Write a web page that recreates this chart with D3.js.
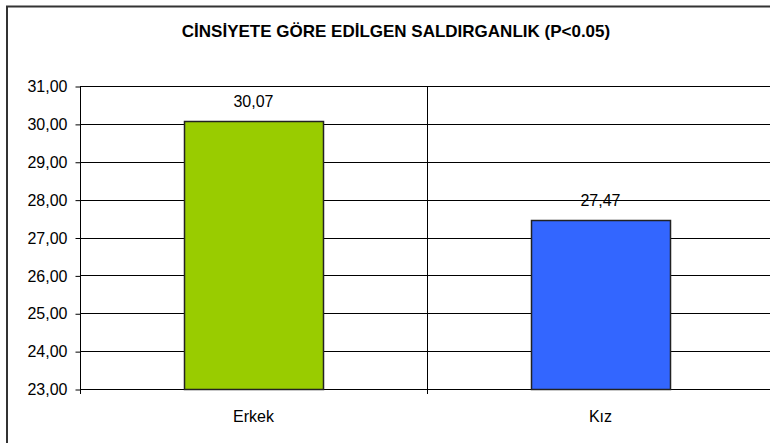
<!DOCTYPE html>
<meta charset="utf-8">
<style>
	body { margin: 0; background: #fff; }
	svg { display: block; font-family: "Liberation Sans", Arial, sans-serif; }
	.axis text { font-size: 16px; fill: #000; }
	.axis path, .axis line { stroke: #000; }
</style>
<svg width="770" height="443"></svg>
<script src="https://d3js.org/d3.v7.min.js"></script>
<script>
	var categories = ['Erkek', 'Kız']
	var values = [30.07, 27.47]
	var colors = ['#99CC00', '#3366FF']
	var yTicks = [23, 24, 25, 26, 27, 28, 29, 30, 31]
	var title = 'CİNSİYETE GÖRE EDİLGEN SALDIRGANLIK (P<0.05)'

	var svg = d3.select('svg'),
		margin = { top: 86, right: -4, bottom: 54, left: 80 },
		width = +svg.attr('width') - margin.left - margin.right,
		height = +svg.attr('height') - margin.top - margin.bottom

	// çerçeve
	svg.append('path')
		.attr('d', 'M7,460 V6.5 H790')
		.attr('fill', 'none').attr('stroke', '#333').attr('stroke-width', 2)

	svg.append('text')
		.attr('x', 396).attr('y', 37)
		.attr('text-anchor', 'middle')
		.attr('font-size', '17px')
		.attr('font-weight', 'bold')
		.text(title)

	var g = svg.append('g').attr('transform', 'translate(' + margin.left + ',' + margin.top + ')')

	var x = d3.scaleBand().domain(categories).range([0, width]).paddingInner(0).paddingOuter(0)
	var y = d3.scaleLinear().domain([23, 31]).range([height, 0])
	var fmt = function (d) { return d3.format('.2f')(d).replace('.', ',') }

	// ızgara
	g.selectAll('.grid')
		.data(yTicks)
		.enter().append('line')
		.attr('x1', 0).attr('x2', width)
		.attr('y1', function (d) { return Math.round(y(d)) + 0.5 })
		.attr('y2', function (d) { return Math.round(y(d)) + 0.5 })
		.attr('stroke', '#000')
		.attr('stroke-width', 1)

	// kategori ayırıcı
	g.append('line')
		.attr('x1', Math.round(x(categories[1])) + 0.5)
		.attr('x2', Math.round(x(categories[1])) + 0.5)
		.attr('y1', 0).attr('y2', height + 5)
		.attr('stroke', '#000')

	var yAxis = d3.axisLeft(y).tickValues(yTicks).tickFormat(fmt).tickSize(5).tickPadding(8)
	g.append('g')
		.attr('class', 'axis')
		.attr('transform', 'translate(0.5,0.5)')
		.call(yAxis)
		.call(function (s) { s.select('.domain').remove() })

	g.append('line')
		.attr('x1', 0.5).attr('x2', 0.5)
		.attr('y1', 0).attr('y2', height + 5)
		.attr('stroke', '#000')

	var bw = 139
	g.selectAll('.bar')
		.data(values)
		.enter().append('rect')
		.attr('x', function (d, i) { return Math.round(x(categories[i]) + x.bandwidth() / 2 - bw / 2) + 0.5 })
		.attr('y', function (d) { return Math.round(y(d)) + 0.5 })
		.attr('width', bw)
		.attr('height', function (d) { return Math.round(y(23)) - Math.round(y(d)) })
		.attr('fill', function (d, i) { return colors[i] })
		.attr('stroke', '#222')
		.attr('stroke-width', 1.5)

	g.selectAll('.val')
		.data(values)
		.enter().append('text')
		.attr('x', function (d, i) { return x(categories[i]) + x.bandwidth() / 2 })
		.attr('y', function (d) { return y(d) - 14 })
		.attr('text-anchor', 'middle')
		.attr('font-size', '16px')
		.text(fmt)

	g.selectAll('.cat')
		.data(categories)
		.enter().append('text')
		.attr('x', function (d) { return x(d) + x.bandwidth() / 2 })
		.attr('y', height + 33)
		.attr('text-anchor', 'middle')
		.attr('font-size', '16px')
		.text(function (d) { return d })
</script>
